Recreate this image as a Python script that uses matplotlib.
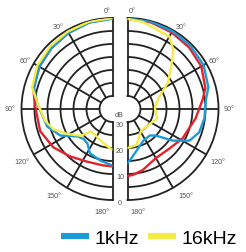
import numpy as np
import matplotlib
matplotlib.use("Agg")
import matplotlib.pyplot as plt
from matplotlib.lines import Line2D

# ---------------- data (relative level in dB vs angle in degrees) ----------------
# left half (angles counter-clockwise from front)
left_red_ang  = [0, 15, 30, 45, 60, 75, 86, 107, 123, 138, 154, 170, 180]
left_red_db   = [0, -0.5, -1.2, -1.8, -2.5, -3.5, -5.0, -5.9, -7.9, -10.5, -12.5, -13.0, -12.9]

left_yel_ang  = [0, 15, 30, 45, 60, 75, 86, 100, 109, 119, 130, 136, 147, 159, 176, 180]
left_yel_db   = [0, -0.2, -0.6, -1.0, -1.6, -3.0, -6.2, -8.7, -11.0, -15.2, -19.0, -22.9, -23.0, -22.0, -19.9, -19.5]

left_blu_ang  = [0, 15, 30, 45, 60, 75, 86, 105, 117, 128, 136, 144, 153, 167, 180]
left_blu_db   = [-0.3, -0.6, -1.2, -1.8, -2.5, -3.8, -6.0, -9.0, -12.5, -17.9, -19.0, -18.6, -15.9, -14.6, -13.2]

# right half (angles clockwise from front)
right_red_ang = [0, 15, 30, 45, 60, 75, 83, 98, 118, 133, 150, 166, 175, 180]
right_red_db  = [-0.3, -0.5, -1.0, -1.5, -2.2, -4.0, -5.9, -8.6, -11.0, -12.8, -13.2, -10.8, -9.6, -9.2]

right_blu_ang = [0, 15, 30, 45, 60, 75, 83, 97, 108, 117, 125, 133, 140, 154, 168, 177, 180]
right_blu_db  = [0, -0.2, -0.4, -0.7, -1.2, -2.8, -4.6, -5.2, -6.0, -8.2, -13.8, -20.0, -21.7, -21.3, -18.5, -15.4, -14.2]

right_yel_ang = [0, 10, 30, 38, 46, 57, 68, 84, 90, 108, 129, 149, 166, 180]
right_yel_db  = [-0.3, -1.0, -2.8, -6.3, -11.7, -16.5, -21.7, -24.3, -24.4, -23.0, -25.0, -25.0, -20.7, -20.0]

ring_levels   = [-25, -20, -15, -10, -5]
spoke_angles  = [30, 60, 90, 120, 150]
angle_labels  = ["0°", "30°", "60°", "90°", "120°", "150°", "180°"]
db_ticks      = [-30, -20, -10, 0]
db_tick_text  = ["30", "20", "10", "0"]

legend_names  = ["1kHz", "16kHz"]

BLUE = "#1b9ad6"
YEL = "#f6ea45"
RED = "#e3222b"
GRID = "#222222"

# ---------------- figure ----------------
W, H = 246, 253
fig = plt.figure(figsize=(W / 100, H / 100), dpi=100)
plt.rcParams["font.family"] = ["Liberation Sans", "DejaVu Sans"]

R = 91.0
cy = 110.0
cxL, cxR = 112.5, 127.5
hole = 13.0


def rect(x0, x1, y0, y1):
    return [x0 / W, 1 - y1 / H, (x1 - x0) / W, (y1 - y0) / H]


axL = fig.add_axes(rect(cxL - 1.5 * R, cxL + 0.5 * R, cy - R, cy + R), projection="polar")
axR = fig.add_axes(rect(cxR - 0.5 * R, cxR + 1.5 * R, cy - R, cy + R), projection="polar")

span = 30.0
rorigin = -30 - span * hole / (R - hole)

for ax, d in ((axL, 1), (axR, -1)):
    ax.set_theta_zero_location("N")
    ax.set_theta_direction(d)
    ax.set_thetamin(0)
    ax.set_thetamax(180)
    ax.set_ylim(-30, 0)
    ax.set_rorigin(rorigin)
    ax.set_rgrids(ring_levels)
    ax.set_thetagrids(spoke_angles)
    ax.set_xticklabels([])
    ax.set_yticklabels([])
    ax.tick_params(length=0)
    ax.grid(True, color=GRID, lw=1.3)
    for s in ax.spines.values():
        s.set_color(GRID)
        s.set_linewidth(1.3)
    ax.patch.set_alpha(0)

# curves
lw = 1.7
axL.plot(np.deg2rad(left_red_ang), left_red_db, color=RED, lw=lw, zorder=3)
axL.plot(np.deg2rad(left_blu_ang), left_blu_db, color=BLUE, lw=lw, zorder=3)
axL.plot(np.deg2rad(left_yel_ang), left_yel_db, color=YEL, lw=lw, zorder=4)

axR.plot(np.deg2rad(right_red_ang), right_red_db, color=RED, lw=lw, zorder=3)
axR.plot(np.deg2rad(right_blu_ang), right_blu_db, color=BLUE, lw=lw, zorder=3)
axR.plot(np.deg2rad(right_yel_ang), right_yel_db, color=YEL, lw=lw, zorder=4)

# angle labels
lab_ang = [3, 33, 61, 90, 120, 146, 174]
lab_r = [3.0, 3.0, 3.3, 4.2, 5.2, 5.2, 4.6]
for ax in (axL, axR):
    for a, rr, t in zip(lab_ang, lab_r, angle_labels):
        ax.text(np.deg2rad(a), rr, t, fontsize=5.2, color="#555555",
                ha="center", va="center", clip_on=False)

# dB scale between halves
for v, t in zip(db_ticks, db_tick_text):
    axL.annotate(t, xy=(np.pi, v), xytext=(5.4, -1.8), textcoords="offset points",
                 fontsize=5.2, color="#555555", ha="center", va="center")
axL.annotate("dB", xy=(np.pi, -30), xytext=(5.0, 5.2), textcoords="offset points",
             fontsize=5.2, color="#555555", ha="center", va="center")

# legend
handles = [Line2D([], [], color=BLUE, lw=4.4, solid_capstyle="butt"),
           Line2D([], [], color=YEL, lw=4.4, solid_capstyle="butt")]
fig.legend(handles, legend_names, loc="center", bbox_to_anchor=(149 / W, 1 - 239 / H),
           ncol=2, frameon=False, fontsize=14, handlelength=1.45,
           handletextpad=0.3, columnspacing=0.45, borderpad=0, borderaxespad=0)

fig.savefig("out.png", dpi=100)
